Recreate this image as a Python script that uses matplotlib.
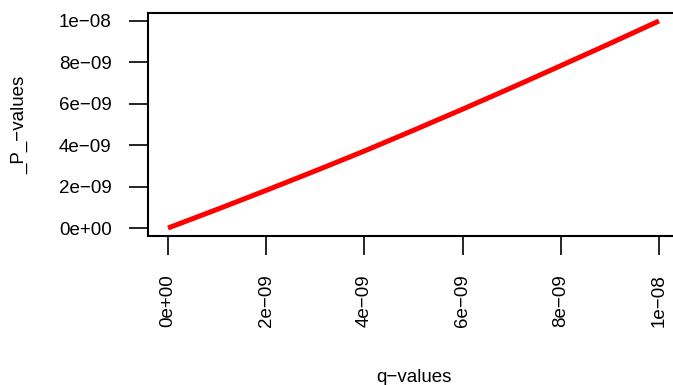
import numpy as np
import matplotlib.pyplot as plt

plt.rcParams.update({
    "font.family": ["Liberation Sans", "DejaVu Sans"],
    "font.size": 13.5,
})

# q-values vs P-values
q_values = [0, 1e-9, 2e-9, 3e-9, 4e-9, 5e-9, 6e-9, 7e-9, 8e-9, 9e-9, 1e-8]
p_values = [0, 0.90e-9, 1.82e-9, 2.76e-9, 3.72e-9, 4.72e-9, 5.74e-9, 6.78e-9, 7.84e-9, 8.91e-9, 1e-8]

x_ticks = [0, 2e-9, 4e-9, 6e-9, 8e-9, 1e-8]
x_tick_labels = ["0e+00", "2e\u221209", "4e\u221209", "6e\u221209", "8e\u221209", "1e\u221208"]
y_ticks = x_ticks
y_tick_labels = x_tick_labels

W, H = 673, 385
fig = plt.figure(figsize=(W / 100, H / 100), dpi=100)
left, right, bottom, top = 148.4, 678.6, 236.3, 12.7
ax = fig.add_axes([left / W, 1 - bottom / H, (right - left) / W, (bottom - top) / H])

ax.plot(q_values, p_values, color="red", linewidth=3.6, solid_capstyle="butt")

pad = 0.04 * 1e-8
ax.set_xlim(-pad, 1e-8 + pad)
ax.set_ylim(-pad, 1e-8 + pad)

ax.set_xticks(x_ticks)
ax.set_xticklabels(x_tick_labels, rotation=90)
ax.set_yticks(y_ticks)
ax.set_yticklabels(y_tick_labels)
ax.tick_params(direction="out", length=13.5, width=1.2, labelsize=13.5)
ax.tick_params(axis="x", pad=14)
ax.tick_params(axis="y", pad=13)
for s in ax.spines.values():
    s.set_linewidth(1.5)

fig.text(20 / W, 1 - 124.5 / H, "_P_\u2212values", rotation=90, ha="center", va="center", fontsize=13.5)
fig.text(413.5 / W, 1 - 377 / H, "q\u2212values", ha="center", va="center", fontsize=13.5)

fig.savefig("out.png", dpi=100)
